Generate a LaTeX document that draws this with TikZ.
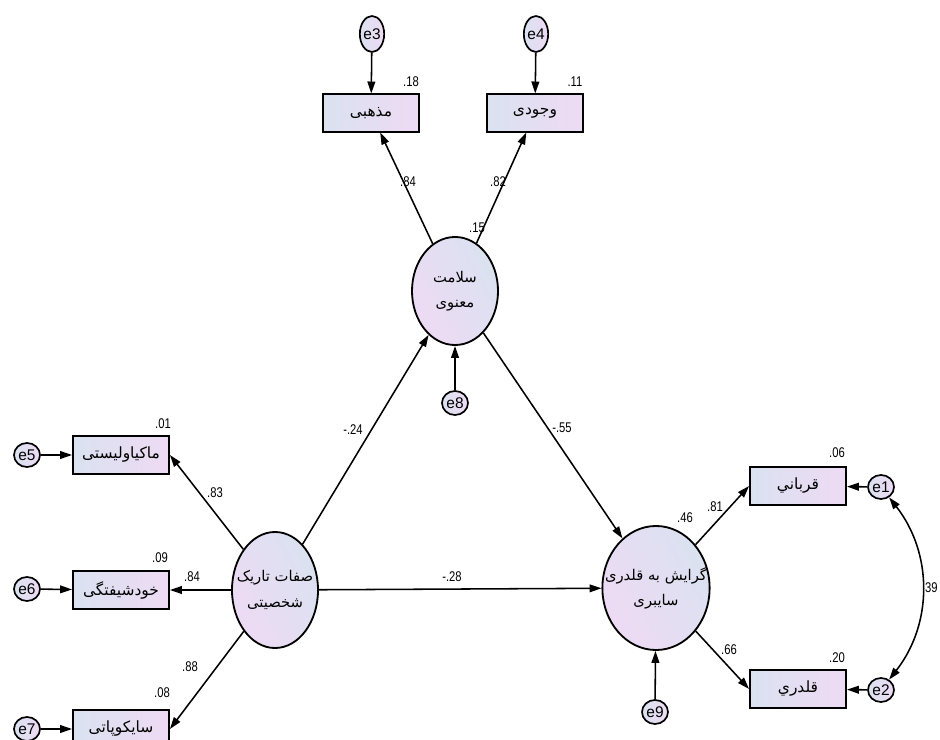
\documentclass[tikz,border=0pt]{standalone}
\usepackage{fontspec}
\setmainfont{Liberation Sans}
\newfontfamily\arabicfont[Script=Arabic]{DejaVu Sans}
\newfontfamily\coeffont[FakeStretch=0.8]{Liberation Sans}
\TeXXeTstate=1
\usepackage{tikz}
\usetikzlibrary{arrows.meta,shapes,positioning}
\usepackage{xcolor}
\definecolor{semblue}{RGB}{218,226,240}
\definecolor{sempink}{RGB}{238,218,244}
\newcommand{\fatext}[1]{\beginR #1\endR}
\tikzstyle{arrow} = [->,>={Triangle[length=8.5pt,width=5.5pt]},line width=1.1pt]
\tikzstyle{twoway} = [<->,>={Triangle[length=8.5pt,width=5.5pt]},line width=1.1pt]
\tikzstyle{obsbox} = [rectangle, draw, line width=1.3pt, minimum width=2.4cm, minimum height=0.93cm, left color=semblue, right color=sempink, font=\arabicfont\fontsize{11}{13}\selectfont]
\tikzstyle{latentnode} = [ellipse, draw, line width=1.3pt, minimum width=2.15cm, minimum height=2.7cm, inner sep=0pt, left color=semblue, right color=sempink, shading angle=-60]
\tikzstyle{latenttext} = [align=center, font=\arabicfont\fontsize{10.5}{18}\selectfont]
\tikzstyle{errnode} = [ellipse, draw, line width=1.2pt, minimum width=0.65cm, minimum height=0.6cm, inner sep=0pt, left color=semblue, right color=sempink, font=\fontsize{11}{12}\selectfont]
\tikzstyle{coef} = [font=\coeffont\fontsize{10}{11}\selectfont, inner sep=0pt]

\begin{document}
\begin{tikzpicture}[x=0.025cm, y=-0.025cm]
\useasboundingbox (0,0) rectangle (940,740);

% Latent variables
\node[latentnode] (spirit) at (455,291) {};
\node[latenttext] (spirittext) at (spirit) {\fatext{سلامت}\\\fatext{معنوی}};
\node[latentnode, minimum height=2.9cm] (dark) at (275,590) {};
\node[latenttext] (darktext) at (dark) {\fatext{صفات تاریک}\\\fatext{شخصیتی}};
\node[latentnode, minimum width=2.68cm, minimum height=3.1cm] (bully) at (656,588) {};
\node[latenttext] (bullytext) at (bully) {\fatext{گرایش به قلدری}\\\fatext{سایبری}};

% Indicators of spiritual health
\node[obsbox] (relig) at (371,113) {\fatext{مذهبی}};
\node[obsbox] (exist) at (535,113) {\fatext{وجودی}};
\node[errnode, minimum width=0.55cm, minimum height=0.9cm] (e3) at (372,34) {e3};
\node[errnode, minimum width=0.55cm, minimum height=0.9cm] (e4) at (536,34) {e4};
\node[errnode] (e8) at (455,403) {e8};

% Indicators of dark traits
\node[obsbox] (mach) at (121,455) {\fatext{ماکیاولیستی}};
\node[obsbox] (narc) at (121,590) {\fatext{خودشیفتگی}};
\node[obsbox] (psych) at (121,729) {\fatext{سایکوپاتی}};
\node[errnode] (e5) at (27,455) {e5};
\node[errnode] (e6) at (27,589) {e6};
\node[errnode] (e7) at (27,729) {e7};

% Indicators of cyber bullying
\node[obsbox] (victim) at (798,486) {\fatext{قرباني}};
\node[obsbox] (bullyobs) at (798,689) {\fatext{قلدري}};
\node[errnode] (e1) at (881,487) {e1};
\node[errnode] (e2) at (881,690) {e2};
\node[errnode] (e9) at (655,712) {e9};

% Paths
\draw[arrow] (e3) -- (relig);
\draw[arrow] (e4) -- (exist);
\draw[arrow] (spirit) -- (relig);
\draw[arrow] (spirit) -- (exist);
\draw[arrow] (e8) -- (spirit);
\draw[arrow] (dark) -- (spirit);
\draw[arrow] (spirit) -- (bully);
\draw[arrow] (dark) -- (bully);
\draw[arrow] (dark) -- (mach.east);
\draw[arrow] (dark) -- (narc.east);
\draw[arrow] (dark) -- (psych.east);
\draw[arrow] (e5) -- (mach);
\draw[arrow] (e6) -- (narc);
\draw[arrow] (e7) -- (psych);
\draw[arrow] (bully) -- (victim.west);
\draw[arrow] (bully) -- (bullyobs.west);
\draw[arrow] (e1) -- (victim);
\draw[arrow] (e2) -- (bullyobs);
\draw[arrow] (e9) -- (bully);
\draw[twoway] (e1) to[bend left=38] (e2);

% Estimates
\node[coef] (r18) at (411,82) {.18};
\node[coef] (r11) at (575,82) {.11};
\node[coef] (l84a) at (408,182) {.84};
\node[coef] (l82) at (498,182) {.82};
\node[coef] (r15) at (477,228) {.15};
\node[coef] (b24) at (353,430) {-.24};
\node[coef] (b55) at (562,428) {-.55};
\node[coef] (b28) at (452,577) {-.28};
\node[coef] (r01) at (163,424) {.01};
\node[coef] (l83) at (215,493) {.83};
\node[coef] (r09) at (160,558) {.09};
\node[coef] (l84b) at (192,577) {.84};
\node[coef] (l88) at (190,667) {.88};
\node[coef] (r08) at (162,693) {.08};
\node[coef] (r46) at (685,518) {.46};
\node[coef] (l81) at (715,507) {.81};
\node[coef] (l66) at (729,650) {.66};
\node[coef] (r06) at (837,453) {.06};
\node[coef] (r20) at (837,658) {.20};
\node[coef, anchor=east] (c39) at (938,588) {.39};
\end{tikzpicture}
\end{document}
